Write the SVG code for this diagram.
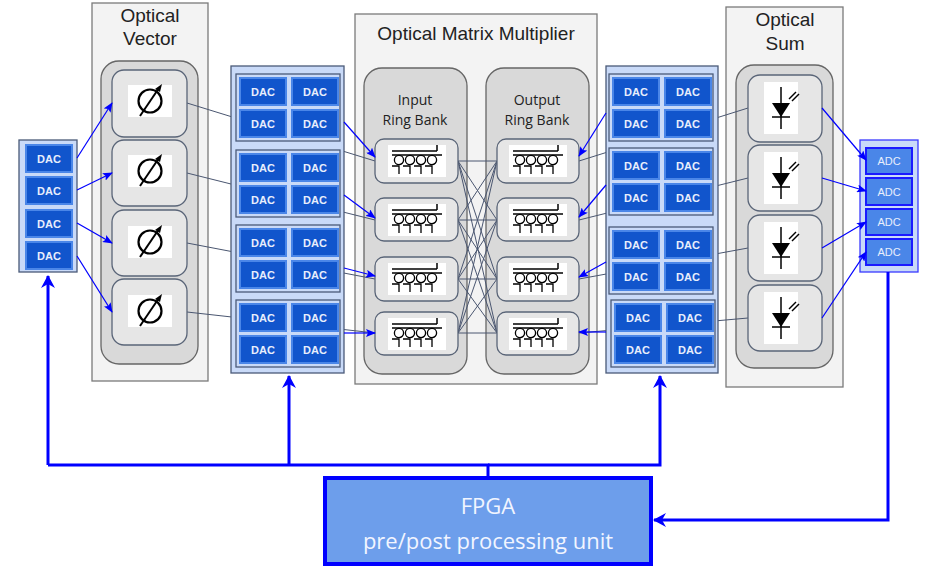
<svg xmlns="http://www.w3.org/2000/svg" xmlns:xlink="http://www.w3.org/1999/xlink" width="934" height="572" viewBox="0 0 934 572">
<style>
.panel{fill:#f3f3f3;stroke:#7a7a7a;stroke-width:1.3}
.inner{fill:#d9d9d9;stroke:#666;stroke-width:1.3}
.box{fill:#e6e6e6;stroke:#5a6578;stroke-width:1.3}
.bank{fill:#c9daf8;stroke:#4a5a78;stroke-width:1.3}
.sub{fill:#c9daf8;stroke:#4a5a78;stroke-width:1.3}
.dac{fill:#1155cc;stroke:#4a86e8;stroke-width:2}
.adc{fill:#4a86e8;stroke:#1a1aff;stroke-width:2}
.adcbank{fill:#c9daf8;stroke:#3a3aff;stroke-width:1.3}
.dt{font-family:"Liberation Sans",Arial,sans-serif;font-size:11px;font-weight:bold;fill:#e8eefc;text-anchor:middle}
.title{font-family:"Liberation Sans",Arial,sans-serif;font-size:19px;fill:#222;text-anchor:middle}
.rt{font-family:"Open Sans","Noto Sans",sans-serif;font-size:14px;fill:#222;text-anchor:middle}
.gray{stroke:#4a5670;stroke-width:1;fill:none}
.blue{stroke:#0000ff;stroke-width:1.2;fill:none;marker-end:url(#ah)}
.thick{stroke:#0000ff;stroke-width:3;fill:none}
</style>
<defs>
<marker id="ah" markerWidth="10" markerHeight="8" refX="9" refY="4" orient="auto" markerUnits="userSpaceOnUse"><path d="M0,0 L10,4 L0,8 L2,4 Z" fill="#0000ff"/></marker>
<marker id="ahb" markerWidth="14" markerHeight="14" refX="12" refY="7" orient="auto" markerUnits="userSpaceOnUse"><path d="M0,0 L13,7 L0,14 L4,7 Z" fill="#0000ff"/></marker>
<g id="phase">
<rect x="-22" y="-16" width="44" height="32" fill="#fff"/>
<circle cx="0" cy="0" r="11.5" fill="none" stroke="#000" stroke-width="2.2"/>
<line x1="-10" y1="15" x2="9" y2="-13" stroke="#000" stroke-width="2"/>
<path d="M12,-17 L5,-12 L10,-9 Z" fill="#000"/>
</g>
<g id="ring">
<rect x="-29" y="-16" width="58" height="32" fill="#fff"/>
<line x1="-25" y1="-10" x2="20" y2="-10" stroke="#000" stroke-width="1.5"/>
<line x1="20" y1="-16" x2="20" y2="-10" stroke="#000" stroke-width="1.5"/>
<line x1="-25" y1="-6" x2="25" y2="-6" stroke="#000" stroke-width="1.3"/>
<g fill="none" stroke="#000" stroke-width="1.3">
<circle cx="-18" cy="-1" r="4.6"/><circle cx="-7" cy="-1" r="4.6"/><circle cx="4" cy="-1" r="4.6"/><circle cx="15" cy="-1" r="4.6"/>
<path d="M-25,5 H-18 V13 M-14,5 H-7 V13 M-3,5 H4 V13 M8,5 H15 V13"/>
</g>
</g>
<g id="pd">
<rect x="-17" y="-26" width="34" height="52" fill="#fff"/>
<line x1="0" y1="-21" x2="0" y2="21" stroke="#000" stroke-width="1.5"/>
<path d="M-9,-5 L9,-5 L0,9 Z" fill="#000"/>
<line x1="-9" y1="9" x2="9" y2="9" stroke="#000" stroke-width="1.5"/>
<g stroke="#000" stroke-width="1.5"><line x1="8" y1="-9" x2="15" y2="-16"/><line x1="11" y1="-7" x2="18" y2="-14"/></g>
</g>
<g id="dac2x2">
<rect class="sub" x="0" y="0" width="104" height="67"/>
<rect class="dac" x="4" y="4" width="46" height="27"/><text class="dt" x="27" y="22">DAC</text>
<rect class="dac" x="56" y="4" width="46" height="27"/><text class="dt" x="79" y="22">DAC</text>
<rect class="dac" x="4" y="36" width="46" height="27"/><text class="dt" x="27" y="54">DAC</text>
<rect class="dac" x="56" y="36" width="46" height="27"/><text class="dt" x="79" y="54">DAC</text>
</g>
</defs>

<!-- panels -->
<g id="optical-vector">
<rect class="panel" x="92" y="3" width="116" height="378"/>
<text class="title" x="150" y="22">Optical</text><text class="title" x="150" y="45">Vector</text>
<rect class="inner" x="101" y="61" width="97" height="303" rx="18"/>
</g>
<g id="matrix">
<rect class="panel" x="355" y="14" width="242" height="370"/>
<text class="title" x="476" y="40">Optical Matrix Multiplier</text>
<rect class="inner" x="364" y="68" width="103" height="306" rx="18"/>
<rect class="inner" x="486" y="68" width="103" height="306" rx="18"/>
<text class="rt" x="415" y="105">Input</text><text class="rt" x="415" y="125">Ring Bank</text>
<text class="rt" x="537" y="105">Output</text><text class="rt" x="537" y="125">Ring Bank</text>
</g>
<g id="optical-sum">
<rect class="panel" x="726" y="7" width="117" height="380"/>
<text class="title" x="785" y="26">Optical</text><text class="title" x="785" y="50">Sum</text>
<rect class="inner" x="736" y="65" width="97" height="303" rx="18"/>
</g>

<!-- connectors -->
<g id="connectors">
<g class="gray">
<line x1="187" y1="103" x2="375" y2="161"/>
<line x1="187" y1="173" x2="375" y2="220"/>
<line x1="187" y1="243" x2="375" y2="279"/>
<line x1="187" y1="312" x2="375" y2="333"/>
<line x1="748" y1="108" x2="579" y2="161"/>
<line x1="748" y1="178" x2="579" y2="220"/>
<line x1="748" y1="248" x2="579" y2="279"/>
<line x1="748" y1="318" x2="579" y2="333"/>
<path d="M458,161 L497,161 M458,161 L497,220 M458,161 L497,279 M458,161 L497,333 M458,220 L497,161 M458,220 L497,220 M458,220 L497,279 M458,220 L497,333 M458,279 L497,161 M458,279 L497,220 M458,279 L497,279 M458,279 L497,333 M458,333 L497,161 M458,333 L497,220 M458,333 L497,279 M458,333 L497,333"/>
</g>
</g>

<!-- DAC bank left -->
<g id="dac-left">
<rect class="bank" x="19" y="140" width="58" height="132"/>
<rect class="dac" x="26" y="145" width="46" height="27"/><text class="dt" x="49" y="163">DAC</text>
<rect class="dac" x="26" y="177" width="46" height="27"/><text class="dt" x="49" y="195">DAC</text>
<rect class="dac" x="26" y="210" width="46" height="27"/><text class="dt" x="49" y="228">DAC</text>
<rect class="dac" x="26" y="242" width="46" height="27"/><text class="dt" x="49" y="260">DAC</text>
</g>

<!-- phase shifters -->
<g id="shifters">
<rect class="box" x="112" y="70" width="75" height="67" rx="12"/><use xlink:href="#phase" x="150" y="101"/>
<rect class="box" x="112" y="140" width="75" height="66" rx="12"/><use xlink:href="#phase" x="150" y="171"/>
<rect class="box" x="112" y="210" width="75" height="66" rx="12"/><use xlink:href="#phase" x="150" y="242"/>
<rect class="box" x="112" y="279" width="75" height="66" rx="12"/><use xlink:href="#phase" x="150" y="311"/>
</g>

<!-- DAC bank A -->
<g id="dac-bank-a">
<rect class="bank" x="231" y="66" width="113" height="307"/>
<use xlink:href="#dac2x2" x="236" y="74"/>
<use xlink:href="#dac2x2" x="236" y="150"/>
<use xlink:href="#dac2x2" x="236" y="225"/>
<use xlink:href="#dac2x2" x="236" y="300"/>
</g>

<!-- DAC bank B -->
<g id="dac-bank-b">
<rect class="bank" x="606" y="66" width="112" height="307"/>
<use xlink:href="#dac2x2" x="609" y="74"/>
<use xlink:href="#dac2x2" x="609" y="148"/>
<use xlink:href="#dac2x2" x="609" y="227"/>
<use xlink:href="#dac2x2" x="611" y="300"/>
</g>

<!-- rings -->
<g id="input-rings">
<rect class="box" x="375" y="139" width="83" height="44" rx="9"/><use xlink:href="#ring" x="417" y="161"/>
<rect class="box" x="375" y="198" width="83" height="43" rx="9"/><use xlink:href="#ring" x="417" y="220"/>
<rect class="box" x="375" y="257" width="83" height="44" rx="9"/><use xlink:href="#ring" x="417" y="279"/>
<rect class="box" x="375" y="312" width="83" height="43" rx="9"/><use xlink:href="#ring" x="417" y="334"/>
</g>
<g id="output-rings">
<rect class="box" x="497" y="139" width="82" height="44" rx="9"/><use xlink:href="#ring" x="538" y="161"/>
<rect class="box" x="497" y="198" width="82" height="43" rx="9"/><use xlink:href="#ring" x="538" y="220"/>
<rect class="box" x="497" y="257" width="82" height="44" rx="9"/><use xlink:href="#ring" x="538" y="279"/>
<rect class="box" x="497" y="312" width="82" height="43" rx="9"/><use xlink:href="#ring" x="538" y="334"/>
</g>

<!-- photodiodes -->
<g id="photodiodes">
<rect class="box" x="748" y="75" width="74" height="67" rx="12"/><use xlink:href="#pd" x="781" y="108"/>
<rect class="box" x="748" y="145" width="74" height="66" rx="12"/><use xlink:href="#pd" x="781" y="178"/>
<rect class="box" x="748" y="215" width="74" height="66" rx="12"/><use xlink:href="#pd" x="781" y="248"/>
<rect class="box" x="748" y="285" width="74" height="66" rx="12"/><use xlink:href="#pd" x="781" y="318"/>
</g>

<!-- ADC bank -->
<g id="adc-bank">
<rect class="adcbank" x="860" y="140" width="58" height="132"/>
<rect class="adc" x="866" y="148" width="46" height="26"/><text class="dt" x="889" y="165" style="font-weight:normal">ADC</text>
<rect class="adc" x="866" y="178" width="46" height="27"/><text class="dt" x="889" y="196" style="font-weight:normal">ADC</text>
<rect class="adc" x="866" y="209" width="46" height="26"/><text class="dt" x="889" y="226" style="font-weight:normal">ADC</text>
<rect class="adc" x="866" y="239" width="46" height="26"/><text class="dt" x="889" y="256" style="font-weight:normal">ADC</text>
</g>

<!-- FPGA -->
<g id="fpga">
<rect x="325" y="478" width="326" height="86" fill="#6d9eeb" stroke="#0000ff" stroke-width="4"/>
<text x="488" y="514" style="font-family:'Open Sans','Noto Sans',sans-serif;font-size:22px;fill:#f2f5ff;text-anchor:middle">FPGA</text>
<text x="488" y="549" style="font-family:'Open Sans','Noto Sans',sans-serif;font-size:22px;fill:#f2f5ff;text-anchor:middle">pre/post processing unit</text>
</g>

<!-- blue arrows -->
<g id="control-connectors">
<line class="blue" x1="77" y1="158" x2="112" y2="103"/>
<line class="blue" x1="77" y1="190" x2="112" y2="173"/>
<line class="blue" x1="77" y1="223" x2="112" y2="243"/>
<line class="blue" x1="77" y1="256" x2="112" y2="312"/>
<line class="blue" x1="344" y1="122" x2="375" y2="157"/>
<line class="blue" x1="344" y1="195" x2="375" y2="218"/>
<line class="blue" x1="344" y1="268" x2="375" y2="276"/>
<line class="blue" x1="344" y1="333" x2="375" y2="333"/>
<line class="blue" x1="606" y1="113" x2="579" y2="156"/>
<line class="blue" x1="606" y1="185" x2="579" y2="217"/>
<line class="blue" x1="606" y1="262" x2="579" y2="277"/>
<line class="blue" x1="606" y1="332" x2="579" y2="332"/>
<line class="blue" x1="822" y1="108" x2="866" y2="160"/>
<line class="blue" x1="822" y1="178" x2="866" y2="191"/>
<line class="blue" x1="822" y1="248" x2="866" y2="222"/>
<line class="blue" x1="822" y1="318" x2="866" y2="252"/>
<path class="thick" d="M488,478 V465 H48"/>
<path class="thick" d="M48,465 V276" marker-end="url(#ahb)"/>
<path class="thick" d="M289,465 V376" marker-end="url(#ahb)"/>
<path class="thick" d="M488,465 H660 V376" marker-end="url(#ahb)"/>
<path class="thick" d="M888,272 V520 H654" marker-end="url(#ahb)"/>
</g>
</svg>
